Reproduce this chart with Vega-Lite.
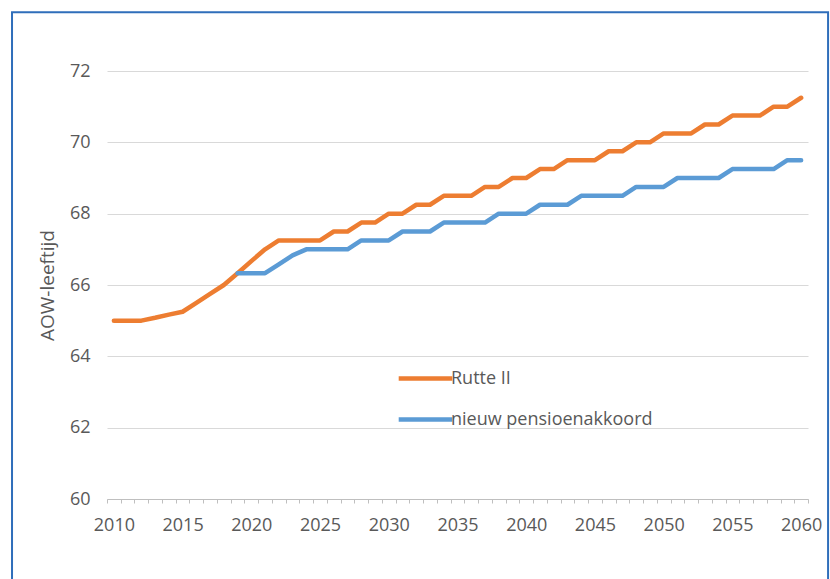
{
  "$schema": "https://vega.github.io/schema/vega-lite/v6.json",
  "autosize": {"type": "none"},
  "padding": {"left": 107, "top": 71, "right": 22, "bottom": 80},
  "width": 701,
  "height": 428,
  "background": "white",
  "config": {"view": {"stroke": null}, "font": "Open Sans"},
  "layer": [
    {
      "data": {"values": [
        {"year": 2010, "series": "Rutte II", "value": 65},
        {"year": 2011, "series": "Rutte II", "value": 65},
        {"year": 2012, "series": "Rutte II", "value": 65},
        {"year": 2013, "series": "Rutte II", "value": 65.08},
        {"year": 2014, "series": "Rutte II", "value": 65.17},
        {"year": 2015, "series": "Rutte II", "value": 65.25},
        {"year": 2016, "series": "Rutte II", "value": 65.5},
        {"year": 2017, "series": "Rutte II", "value": 65.75},
        {"year": 2018, "series": "Rutte II", "value": 66},
        {"year": 2019, "series": "Rutte II", "value": 66.33},
        {"year": 2020, "series": "Rutte II", "value": 66.67},
        {"year": 2021, "series": "Rutte II", "value": 67},
        {"year": 2022, "series": "Rutte II", "value": 67.25},
        {"year": 2023, "series": "Rutte II", "value": 67.25},
        {"year": 2024, "series": "Rutte II", "value": 67.25},
        {"year": 2025, "series": "Rutte II", "value": 67.25},
        {"year": 2026, "series": "Rutte II", "value": 67.5},
        {"year": 2027, "series": "Rutte II", "value": 67.5},
        {"year": 2028, "series": "Rutte II", "value": 67.75},
        {"year": 2029, "series": "Rutte II", "value": 67.75},
        {"year": 2030, "series": "Rutte II", "value": 68},
        {"year": 2031, "series": "Rutte II", "value": 68},
        {"year": 2032, "series": "Rutte II", "value": 68.25},
        {"year": 2033, "series": "Rutte II", "value": 68.25},
        {"year": 2034, "series": "Rutte II", "value": 68.5},
        {"year": 2035, "series": "Rutte II", "value": 68.5},
        {"year": 2036, "series": "Rutte II", "value": 68.5},
        {"year": 2037, "series": "Rutte II", "value": 68.75},
        {"year": 2038, "series": "Rutte II", "value": 68.75},
        {"year": 2039, "series": "Rutte II", "value": 69},
        {"year": 2040, "series": "Rutte II", "value": 69},
        {"year": 2041, "series": "Rutte II", "value": 69.25},
        {"year": 2042, "series": "Rutte II", "value": 69.25},
        {"year": 2043, "series": "Rutte II", "value": 69.5},
        {"year": 2044, "series": "Rutte II", "value": 69.5},
        {"year": 2045, "series": "Rutte II", "value": 69.5},
        {"year": 2046, "series": "Rutte II", "value": 69.75},
        {"year": 2047, "series": "Rutte II", "value": 69.75},
        {"year": 2048, "series": "Rutte II", "value": 70},
        {"year": 2049, "series": "Rutte II", "value": 70},
        {"year": 2050, "series": "Rutte II", "value": 70.25},
        {"year": 2051, "series": "Rutte II", "value": 70.25},
        {"year": 2052, "series": "Rutte II", "value": 70.25},
        {"year": 2053, "series": "Rutte II", "value": 70.5},
        {"year": 2054, "series": "Rutte II", "value": 70.5},
        {"year": 2055, "series": "Rutte II", "value": 70.75},
        {"year": 2056, "series": "Rutte II", "value": 70.75},
        {"year": 2057, "series": "Rutte II", "value": 70.75},
        {"year": 2058, "series": "Rutte II", "value": 71},
        {"year": 2059, "series": "Rutte II", "value": 71},
        {"year": 2060, "series": "Rutte II", "value": 71.25},
        {"year": 2019, "series": "nieuw pensioenakkoord", "value": 66.33},
        {"year": 2020, "series": "nieuw pensioenakkoord", "value": 66.33},
        {"year": 2021, "series": "nieuw pensioenakkoord", "value": 66.33},
        {"year": 2022, "series": "nieuw pensioenakkoord", "value": 66.58},
        {"year": 2023, "series": "nieuw pensioenakkoord", "value": 66.83},
        {"year": 2024, "series": "nieuw pensioenakkoord", "value": 67},
        {"year": 2025, "series": "nieuw pensioenakkoord", "value": 67},
        {"year": 2026, "series": "nieuw pensioenakkoord", "value": 67},
        {"year": 2027, "series": "nieuw pensioenakkoord", "value": 67},
        {"year": 2028, "series": "nieuw pensioenakkoord", "value": 67.25},
        {"year": 2029, "series": "nieuw pensioenakkoord", "value": 67.25},
        {"year": 2030, "series": "nieuw pensioenakkoord", "value": 67.25},
        {"year": 2031, "series": "nieuw pensioenakkoord", "value": 67.5},
        {"year": 2032, "series": "nieuw pensioenakkoord", "value": 67.5},
        {"year": 2033, "series": "nieuw pensioenakkoord", "value": 67.5},
        {"year": 2034, "series": "nieuw pensioenakkoord", "value": 67.75},
        {"year": 2035, "series": "nieuw pensioenakkoord", "value": 67.75},
        {"year": 2036, "series": "nieuw pensioenakkoord", "value": 67.75},
        {"year": 2037, "series": "nieuw pensioenakkoord", "value": 67.75},
        {"year": 2038, "series": "nieuw pensioenakkoord", "value": 68},
        {"year": 2039, "series": "nieuw pensioenakkoord", "value": 68},
        {"year": 2040, "series": "nieuw pensioenakkoord", "value": 68},
        {"year": 2041, "series": "nieuw pensioenakkoord", "value": 68.25},
        {"year": 2042, "series": "nieuw pensioenakkoord", "value": 68.25},
        {"year": 2043, "series": "nieuw pensioenakkoord", "value": 68.25},
        {"year": 2044, "series": "nieuw pensioenakkoord", "value": 68.5},
        {"year": 2045, "series": "nieuw pensioenakkoord", "value": 68.5},
        {"year": 2046, "series": "nieuw pensioenakkoord", "value": 68.5},
        {"year": 2047, "series": "nieuw pensioenakkoord", "value": 68.5},
        {"year": 2048, "series": "nieuw pensioenakkoord", "value": 68.75},
        {"year": 2049, "series": "nieuw pensioenakkoord", "value": 68.75},
        {"year": 2050, "series": "nieuw pensioenakkoord", "value": 68.75},
        {"year": 2051, "series": "nieuw pensioenakkoord", "value": 69},
        {"year": 2052, "series": "nieuw pensioenakkoord", "value": 69},
        {"year": 2053, "series": "nieuw pensioenakkoord", "value": 69},
        {"year": 2054, "series": "nieuw pensioenakkoord", "value": 69},
        {"year": 2055, "series": "nieuw pensioenakkoord", "value": 69.25},
        {"year": 2056, "series": "nieuw pensioenakkoord", "value": 69.25},
        {"year": 2057, "series": "nieuw pensioenakkoord", "value": 69.25},
        {"year": 2058, "series": "nieuw pensioenakkoord", "value": 69.25},
        {"year": 2059, "series": "nieuw pensioenakkoord", "value": 69.5},
        {"year": 2060, "series": "nieuw pensioenakkoord", "value": 69.5}
      ]},
      "mark": {"type": "line", "strokeWidth": 4.5, "strokeCap": "round", "strokeJoin": "round"},
      "encoding": {
        "x": {
          "field": "year", "type": "quantitative",
          "scale": {"domain": [2009.5, 2060.5], "nice": false, "zero": false},
          "axis": {
            "title": null,
            "values": [2009.5,2010.5,2011.5,2012.5,2013.5,2014.5,2015.5,2016.5,2017.5,2018.5,2019.5,2020.5,2021.5,2022.5,2023.5,2024.5,2025.5,2026.5,2027.5,2028.5,2029.5,2030.5,2031.5,2032.5,2033.5,2034.5,2035.5,2036.5,2037.5,2038.5,2039.5,2040.5,2041.5,2042.5,2043.5,2044.5,2045.5,2046.5,2047.5,2048.5,2049.5,2050.5,2051.5,2052.5,2053.5,2054.5,2055.5,2056.5,2057.5,2058.5,2059.5,2060.5],
            "labelExpr": "((datum.value + 0.5) % 5 === 0 && datum.value < 2060.4) ? format(datum.value + 0.5, 'd') : ''",
            "labelOffset": 6.87,
            "grid": false,
            "domainColor": "#bfbfbf",
            "tickColor": "#bfbfbf",
            "tickSize": 4,
            "labelFontSize": 18,
            "labelColor": "#595959",
            "labelPadding": 13,
            "labelFlush": false,
            "labelOverlap": false
          }
        },
        "y": {
          "field": "value", "type": "quantitative",
          "scale": {"domain": [60, 72], "nice": false, "zero": false},
          "axis": {
            "values": [60, 62, 64, 66, 68, 70, 72],
            "grid": true,
            "gridColor": "#d9d9d9",
            "domain": false,
            "ticks": false,
            "labelPadding": 17,
            "labelFontSize": 18,
            "labelColor": "#595959",
            "title": "AOW-leeftijd",
            "titleFontSize": 19,
            "titleColor": "#595959",
            "titleFontWeight": "normal",
            "titlePadding": 12
          }
        },
        "color": {
          "field": "series", "type": "nominal",
          "scale": {"domain": ["Rutte II", "nieuw pensioenakkoord"], "range": ["#ED7D31", "#5B9BD5"]},
          "legend": {
            "title": null,
            "orient": "none",
            "legendX": 296,
            "legendY": 285,
            "symbolType": "M-1.34,0H1.34",
            "symbolSize": 1600,
            "symbolStrokeWidth": 4.5,
            "rowPadding": 9,
            "labelOffset": 3,
            "labelLimit": 400,
            "labelFontSize": 18,
            "labelColor": "#595959"
          }
        }
      }
    },
    {
      "data": {"values": [{}]},
      "mark": {"type": "rect", "fill": null, "stroke": "#2F6EBA", "strokeWidth": 2, "clip": false},
      "encoding": {
        "x": {
          "datum": 2002.59, "type": "quantitative",
          "axis": {
            "title": null,
            "values": [2009.5,2010.5,2011.5,2012.5,2013.5,2014.5,2015.5,2016.5,2017.5,2018.5,2019.5,2020.5,2021.5,2022.5,2023.5,2024.5,2025.5,2026.5,2027.5,2028.5,2029.5,2030.5,2031.5,2032.5,2033.5,2034.5,2035.5,2036.5,2037.5,2038.5,2039.5,2040.5,2041.5,2042.5,2043.5,2044.5,2045.5,2046.5,2047.5,2048.5,2049.5,2050.5,2051.5,2052.5,2053.5,2054.5,2055.5,2056.5,2057.5,2058.5,2059.5,2060.5],
            "labelExpr": "((datum.value + 0.5) % 5 === 0 && datum.value < 2060.4) ? format(datum.value + 0.5, 'd') : ''",
            "labelOffset": 6.87,
            "grid": false,
            "domainColor": "#bfbfbf",
            "tickColor": "#bfbfbf",
            "tickSize": 4,
            "labelFontSize": 18,
            "labelColor": "#595959",
            "labelPadding": 13,
            "labelFlush": false,
            "labelOverlap": false
          }
        },
        "x2": {"datum": 2061.96},
        "y": {
          "datum": 73.65, "type": "quantitative",
          "axis": {
            "values": [60, 62, 64, 66, 68, 70, 72],
            "grid": true,
            "gridColor": "#d9d9d9",
            "domain": false,
            "ticks": false,
            "labelPadding": 17,
            "labelFontSize": 18,
            "labelColor": "#595959",
            "title": "AOW-leeftijd",
            "titleFontSize": 19,
            "titleColor": "#595959",
            "titleFontWeight": "normal",
            "titlePadding": 12
          }
        },
        "y2": {"datum": 57.0}
      }
    }
  ]
}
